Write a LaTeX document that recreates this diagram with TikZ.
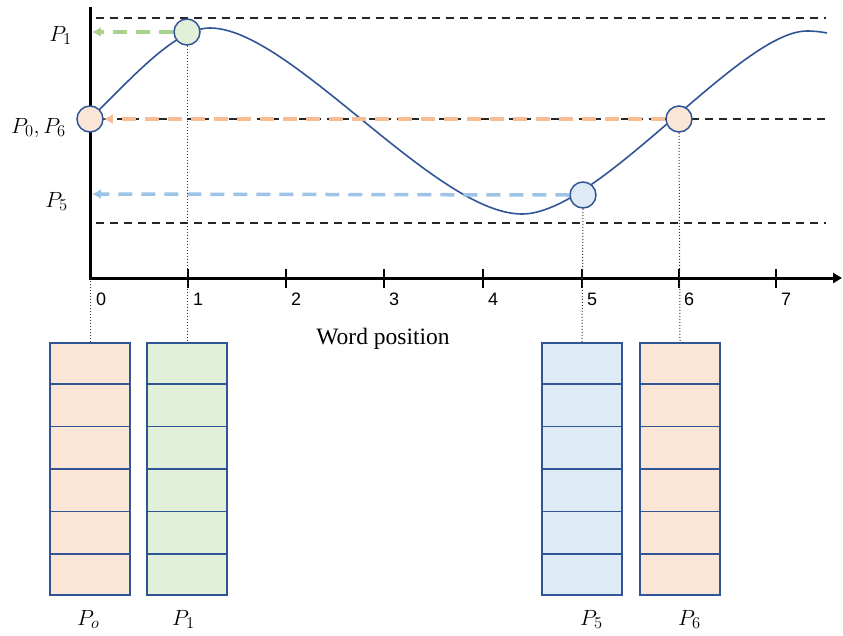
\RequirePackage{fix-cm}
\documentclass[tikz,border=0pt]{standalone}
\usepackage[no-math]{fontspec}
\setmainfont{Liberation Serif}
\newfontfamily\arialf{Liberation Sans}
\DeclareMathSizes{22}{22}{16.5}{13}
\usetikzlibrary{arrows.meta,calc}
\definecolor{dblue}{RGB}{47,85,151}
\definecolor{orfill}{RGB}{251,229,214}
\definecolor{grfill}{RGB}{226,240,217}
\definecolor{blfill}{RGB}{222,235,247}
\definecolor{ordash}{RGB}{246,188,148}
\definecolor{grdash}{RGB}{169,209,142}
\definecolor{bldash}{RGB}{157,195,230}
\tikzset{
  guide/.style={black!85, line width=1.6pt, dash pattern=on 8pt off 6pt},
  carrow/.style={line width=3.5pt, dash pattern=on 14pt off 9pt, -{Latex[length=9pt,width=10pt]}},
  curvestyle/.style={dblue, line width=1.6pt},
  circ/.style={circle, draw=dblue, line width=1.5pt, minimum size=26pt, inner sep=0pt},
  vecbox/.style={rectangle, draw=dblue, line width=2.2pt, minimum width=80pt, minimum height=252pt, inner sep=0pt},
  rowline/.style={dblue, line width=1.6pt},
  drop/.style={black!80, line width=1pt, dotted},
  ticklab/.style={font=\arialf\fontsize{18}{20}\selectfont, anchor=base west, inner sep=0pt},
  mlab/.style={font=\fontsize{22}{25}\selectfont, inner sep=0pt},
  axis/.style={black, line width=3pt}
}
\begin{document}
\begin{tikzpicture}[x=1pt,y=-1pt]
\useasboundingbox (0,0) rectangle (843,635);
% guide lines
\draw[guide] (96,18) -- (826,18);
\draw[guide] (103,119) -- (826,119);
\draw[guide] (96,223) -- (826,223);
% circle positions
\coordinate (p0) at (90,119);
\coordinate (p1) at (187,32);
\coordinate (p5) at (583,195);
\coordinate (p6) at (679,119);
% axes
\coordinate (ytop) at (90,7);
\coordinate (xend) at (842,278);
\coordinate (o) at (90,278);
\draw[axis] (ytop) -- (90,279.5);
\draw[axis, -{Triangle[length=9pt,width=10pt]}] (88.5,278) -- (xend);
\foreach \t/\xx in {1/188,2/286,3/384,4/483,5/582,6/679,7/776}{
  \draw[black, line width=1.6pt] (\xx,269) -- (\xx,288);
  \node[ticklab] (t\t) at (\xx+5,305) {\t};
}
\node[ticklab] (t0) at (96,305) {0};
% boxes
\node[vecbox, fill=orfill] (b0) at (90,469) {};
\node[vecbox, fill=grfill] (b1) at (187,469) {};
\node[vecbox, fill=blfill] (b5) at (582,469) {};
\node[vecbox, fill=orfill] (b6) at (680,469) {};
\foreach \b in {b0,b1,b5,b6}{
  \foreach \k in {1,...,5}{
    \draw[rowline] ($(\b.north west)!\k/6!(\b.south west)$) -- ($(\b.north east)!\k/6!(\b.south east)$);
  }
}
% curve
\draw[curvestyle] (90,119) .. controls (130,80) and (175,28) .. (210,28)
  .. controls (290,28) and (435,214) .. (522,214)
  .. controls (600,214) and (740,31) .. (807,31)
  .. controls (815,31) and (822,32) .. (827,33);
% circles
\node[circ, fill=orfill] (c0) at (p0) {};
\node[circ, fill=grfill] (c1) at (p1) {};
\node[circ, fill=blfill] (c5) at (p5) {};
\node[circ, fill=orfill] (c6) at (p6) {};
% arrow end coordinates
\coordinate (a1) at (92,32);
\coordinate (a5) at (92,194);
% coloured arrows
\draw[carrow, grdash] (c1.west) -- (a1);
\draw[carrow, ordash] (c6.west) -- (c0.east);
\draw[carrow, bldash] (c5.west) -- (a5);
% dotted drops
\draw[drop] (o) -- (b0.north);
\draw[drop] (c1.south) -- (b1.north);
\draw[drop] (c5.south) -- (b5.north);
\draw[drop] (c6.south) -- (b6.north);
\node[font=\fontsize{23.5}{26}\selectfont, anchor=base, inner sep=0pt] (wp) at (383,344) {Word position};
% left labels
\node[mlab, anchor=base east] (l1) at (72,41) {$P_1$};
\node[mlab, anchor=base east] (l06) at (66,133) {$P_0,P_6$};
\node[mlab, anchor=base east] (l5) at (68,207) {$P_5$};
% bottom labels
\node[mlab, anchor=base west] (n0) at (77,625) {$P_o$};
\node[mlab, anchor=base west] (n1) at (172,625) {$P_1$};
\node[mlab, anchor=base west] (n5) at (580,625) {$P_5$};
\node[mlab, anchor=base west] (n6) at (678,625) {$P_6$};
\end{tikzpicture}
\end{document}
